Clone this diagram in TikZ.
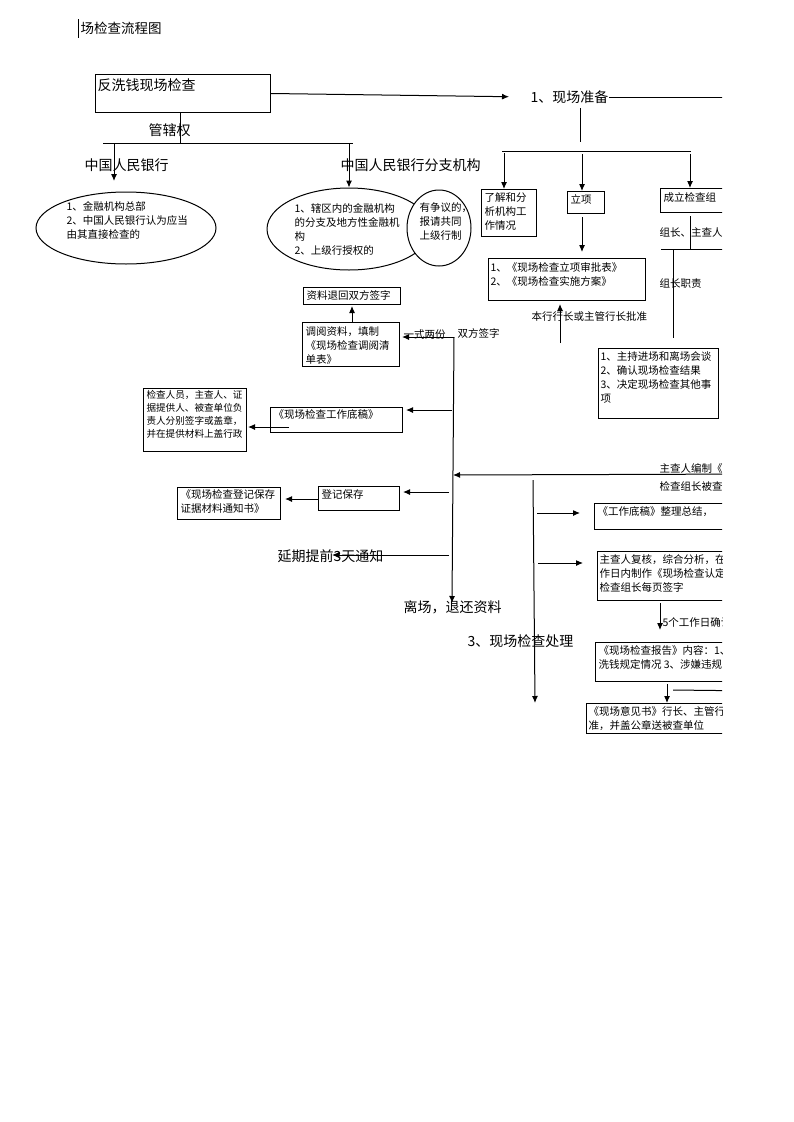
\documentclass[tikz,border=0pt]{standalone}
\usepackage{fontspec}
\newfontfamily\cjk{Noto Sans CJK SC}
\usetikzlibrary{arrows.meta,shapes.geometric}

\begin{document}
\begin{tikzpicture}[x=1pt, y=-1pt, line width=1pt,
    >={Latex[length=7pt,width=6pt]},
    boxnode/.style={draw, rectangle, anchor=north west, inner sep=0pt},
    oval/.style={draw, ellipse, inner sep=0pt},
    smalltxt/.style={font=\cjk\fontsize{10.5}{14}\selectfont, anchor=north west, inner sep=0pt, align=left},
    tinytxt/.style={font=\cjk\fontsize{9.6}{13}\selectfont, anchor=north west, inner sep=0pt, align=left},
    bigtxt/.style={font=\cjk\fontsize{14}{16}\selectfont, anchor=west, inner sep=0pt}]

    \useasboundingbox (0,0) rectangle (793,1122);
    \clip (0,0) rectangle (722,1122);

    % Title
    \draw[line width=0.8pt] (78,19) -- (78,38);
    \node[bigtxt, font=\cjk\fontsize{13.5}{16}\selectfont] (title) at (80,28) {场检查流程图};

    % Top box and step 1
    \node[boxnode, minimum width=175pt, minimum height=38pt] (fxq) at (95,74) {};
    \node[bigtxt] (fxqt) at (97,85) {反洗钱现场检查};
    \node[bigtxt] (zb) at (530,97) {1、现场准备};
    \coordinate (zbr) at (760,97);
    \draw[->, shorten >=21pt] (fxq.east) -- (zb.west);
    \draw (zb.east) -- (zbr);

    % Jurisdiction
    \coordinate (gxj) at (180,143);
    \coordinate (gxl) at (103,143);
    \coordinate (gxr) at (353,143);
    \draw (fxq.south -| gxj) -- (gxj);
    \draw (gxl) -- (gxr);
    \node[bigtxt] (gxq) at (148,130) {管辖权};
    \node[bigtxt] (pboc) at (84,165) {中国人民银行};
    \node[bigtxt] (pbocbr) at (340,165) {中国人民银行分支机构};
    \coordinate (pbl) at (114,143);
    \coordinate (pble) at (114,181);
    \coordinate (pbr) at (349,143);
    \draw[->] (pbl) -- (pble);

    % Ovals
    \node[oval, minimum width=180pt, minimum height=72pt] (ov1) at (126,228) {};
    \node[smalltxt] (ov1t) at (66,201) {1、金融机构总部\\2、中国人民银行认为应当\\由其直接检查的};
    \node[oval, minimum width=164pt, minimum height=82pt] (ov2) at (349,229) {};
    \draw[->] (pbr) -- (pbr |- ov2.north);
    \node[smalltxt] (ov2t) at (294,203) {1、辖区内的金融机构\\的分支及地方性金融机\\构\\2、上级行授权的};
    \node[oval, fill=white, minimum width=64pt, minimum height=76pt] (ov3) at (439,228) {};
    \node[smalltxt] (ov3t) at (419,202) {有争议的，\\报请共同\\上级行制};

    % Preparation branches
    \coordinate (zbd) at (580,108);
    \coordinate (zbj) at (580,142);
    \coordinate (zbl) at (502,151);
    \coordinate (zbrr) at (691,151);
    \draw (zbd) -- (zbj);
    \draw (zbl) -- (zbrr);
    \coordinate (a1) at (504,153);
    \coordinate (a2) at (582,154);
    \coordinate (a3) at (690,154);
    \node[boxnode, minimum width=55pt, minimum height=47pt] (ljfx) at (481,189) {};
    \node[smalltxt] (ljfxt) at (484,192) {了解和分\\析机构工\\作情况};
    \node[boxnode, minimum width=37pt, minimum height=22pt] (lx) at (567,191) {};
    \node[smalltxt] (lxt) at (570,194) {立项};
    \node[boxnode, minimum width=80pt, minimum height=24pt] (cljc) at (660,188) {};
    \node[smalltxt] (cljct) at (663,192) {成立检查组};
    \draw[->] (a1) -- (a1 |- ljfx.north);
    \draw[->] (a2) -- (a2 |- lx.north);
    \draw[->] (a3) -- (a3 |- cljc.north);

    \node[boxnode, minimum width=157pt, minimum height=42pt] (spb) at (488,258) {};
    \node[smalltxt] (spbt) at (490,262) {1、《现场检查立项审批表》\\2、《现场检查实施方案》};
    \draw[->, shorten <=3pt, shorten >=6pt] (lx.south -| a2) -- (spb.north -| a2);
    \node[smalltxt] (pz) at (531,311) {本行行长或主管行长批准};
    \coordinate (pzb) at (560,343);
    \draw[->, shorten >=3pt] (pzb) -- (pzb |- spb.south);

    % Group leader
    \coordinate (zzj) at (690,249);
    \coordinate (zzl) at (661,249);
    \coordinate (zzr) at (760,249);
    \coordinate (zzd) at (673,249);
    \coordinate (zzde) at (673,338);
    \draw[shorten <=3pt] (cljc.south -| zzj) -- (zzj);
    \draw (zzl) -- (zzr);
    \draw (zzd) -- (zzde);
    \node[smalltxt] (zzzc) at (659,227) {组长、主查人};
    \node[smalltxt] (zzzz) at (659,278) {组长职责};
    \node[boxnode, minimum width=120pt, minimum height=70pt] (zz) at (598,348) {};
    \node[smalltxt] (zzt) at (600,351) {1、主持进场和离场会谈\\2、确认现场检查结果\\3、决定现场检查其他事\\项};

    % On-site checking (middle column)
    \coordinate (ctop) at (454,337);
    \coordinate (cbot) at (452,603);
    \node[boxnode, minimum width=97pt, minimum height=17pt] (zltb) at (303,287) {};
    \node[smalltxt] (zltbt) at (306,290) {资料退回双方签字};
    \node[boxnode, minimum width=97pt, minimum height=44pt] (dy) at (302,322) {};
    \node[smalltxt] (dyt) at (305,326) {调阅资料，填制\\《现场检查调阅清\\单表》};
    \draw[->, shorten >=1pt] (dy.north -| 352,0) -- (zltb.south -| 352,0);
    \node[smalltxt] (ysl) at (403,329) {一式两份};
    \node[smalltxt] (sfqz) at (457,328) {双方签字};
    \draw[->, shorten >=2pt] (ctop) -- (ctop -| dy.east);
    \draw[->] (ctop) -- (cbot);
    \node[bigtxt] (lc) at (403,607) {离场，退还资料};

    \node[boxnode, minimum width=132pt, minimum height=25pt] (dg) at (270,407) {};
    \node[smalltxt] (dgt) at (273,409) {《现场检查工作底稿》};
    \coordinate (dga) at (452,410);
    \draw[->, shorten >=3pt] (dga) -- (dga -| dg.east);
    \node[boxnode, minimum width=103pt, minimum height=63pt] (qz) at (143,388) {};
    \node[tinytxt] (qzt) at (146,390) {检查人员，主查人、证\\据提供人、被查单位负\\责人分别签字或盖章，\\并在提供材料上盖行政};
    \coordinate (dgb) at (289,427);
    \draw[->, shorten >=1pt] (dgb) -- (dgb -| qz.east);

    \coordinate (zcr) at (760,474);
    \coordinate (zcl) at (453,475);
    \draw[->] (zcr) -- (zcl);
    \node[smalltxt] (zcbz) at (659,463) {主查人编制《现场检查事实认定书》};
    \node[smalltxt] (zczz) at (659,481) {检查组长被查单位负责人签字};

    \node[boxnode, minimum width=81pt, minimum height=24pt] (djbc) at (318,486) {};
    \node[smalltxt] (djbct) at (321,489) {登记保存};
    \coordinate (dja) at (449,492);
    \draw[->, shorten >=3pt] (dja) -- (dja -| djbc.east);
    \node[boxnode, minimum width=103pt, minimum height=32pt] (tzs) at (177,487) {};
    \node[smalltxt] (tzst) at (180,489) {《现场检查登记保存\\证据材料通知书》};
    \coordinate (djb) at (318,499);
    \draw[->, shorten >=4pt] (djb) -- (djb -| tzs.east);

    \node[bigtxt] (yq) at (277,556) {延期提前3天通知};
    \coordinate (yqa) at (449,555);
    \coordinate (yqe) at (332,555);
    \draw[->] (yqa) -- (yqe);

    % Step 3
    \node[bigtxt] (chl) at (467,641) {3、现场检查处理};
    \coordinate (rtop) at (533,480);
    \coordinate (rbot) at (535,703);
    \draw[->] (rtop) -- (rbot);

    \node[boxnode, minimum width=140pt, minimum height=26pt] (dgzj) at (594,503) {};
    \node[smalltxt] (dgzjt) at (597,506) {《工作底稿》整理总结，};
    \coordinate (r1) at (537,513);
    \draw[->, shorten >=14pt] (r1) -- (r1 -| dgzj.west);

    \node[boxnode, minimum width=140pt, minimum height=49pt] (fh) at (597,551) {};
    \node[smalltxt] (fht) at (599,554) {主查人复核，综合分析，在5个工\\作日内制作《现场检查认定书》，\\检查组长每页签字};
    \coordinate (r2) at (538,563);
    \draw[->, shorten >=14pt] (r2) -- (r2 -| fh.west);

    \node[boxnode, minimum width=140pt, minimum height=39pt] (bg) at (595,642) {};
    \node[smalltxt] (bgt) at (598,645) {《现场检查报告》内容：1、被查单位执行反\\洗钱规定情况 3、涉嫌违规};
    \coordinate (fhx) at (660,600);
    \draw[->, shorten <=3pt, shorten >=12pt] (fhx) -- (fhx |- bg.north);
    \node[smalltxt] (qr) at (662,617) {5个工作日确认};

    \node[boxnode, minimum width=140pt, minimum height=30pt] (yjs) at (586,703) {};
    \node[smalltxt] (yjst) at (588,706) {《现场意见书》行长、主管行长批\\准，并盖公章送被查单位};
    \coordinate (bgx) at (667,681);
    \draw[->, shorten <=3pt] (bgx) -- (bgx |- yjs.north);
    \coordinate (bgl) at (673,690);
    \coordinate (bgr) at (760,691);
    \draw (bgl) -- (bgr);

\end{tikzpicture}
\end{document}
